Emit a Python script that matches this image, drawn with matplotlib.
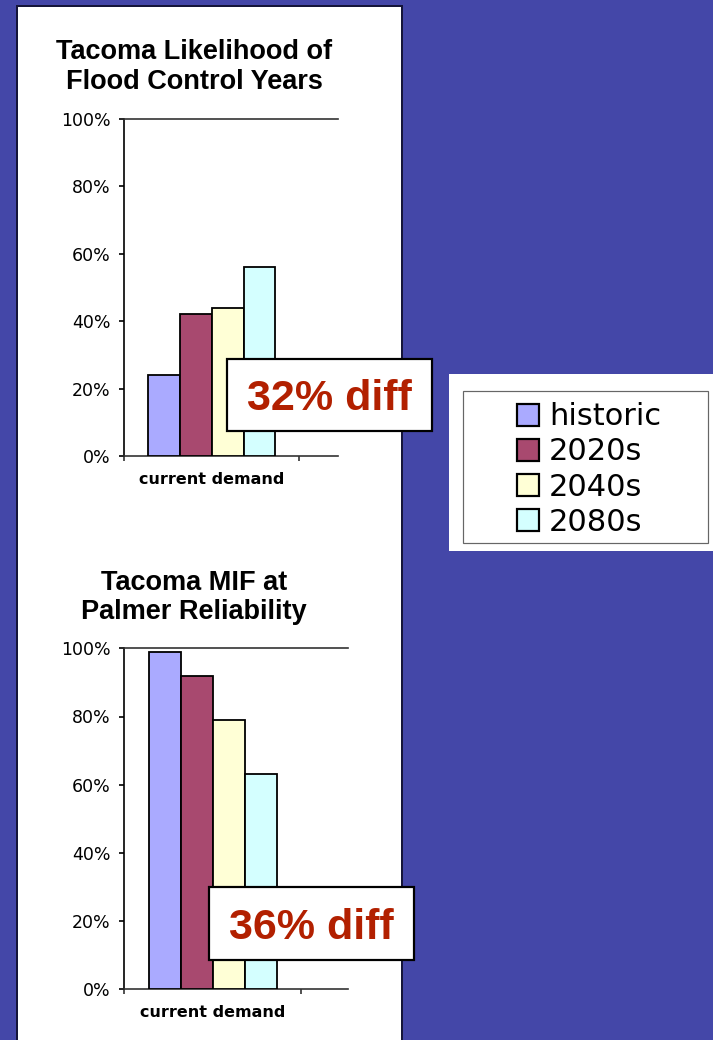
import numpy as np
import matplotlib
matplotlib.use("Agg")
import matplotlib.pyplot as plt
from matplotlib.patches import Rectangle
from matplotlib.ticker import PercentFormatter, FixedLocator

plt.rcParams["font.family"] = ["DejaVu Sans"]

# ---- data -------------------------------------------------------------
series = ["historic", "2020s", "2040s", "2080s"]
series_colors = ["#AAAAFF", "#A8496F", "#FFFFD6", "#D4FFFF"]
categories = ["current demand"]
flood_control_years = [[24], [42], [44], [56]]       # % per series, per category
mif_palmer_reliability = [[99], [92], [79], [63]]    # % per series, per category
flood_title = ["Tacoma Likelihood of", "Flood Control Years"]
mif_title = ["Tacoma MIF at", "Palmer Reliability"]
flood_diff = "32% diff"
mif_diff = "36% diff"
y_ticks = [0, 20, 40, 60, 80, 100]

# ---- canvas -----------------------------------------------------------
W, H, DPI = 713, 1040, 100
fig = plt.figure(figsize=(W / DPI, H / DPI), dpi=DPI, facecolor="#4447A8")


def frac_box(x0, y0, x1, y1):
    """Pixel box (origin top-left) -> figure-fraction [left, bottom, w, h]."""
    return [x0 / W, 1 - y1 / H, (x1 - x0) / W, (y1 - y0) / H]


def fig_rect(x0, y0, x1, y1, **kw):
    l, b, w, h = frac_box(x0, y0, x1, y1)
    r = Rectangle((l, b), w, h, transform=fig.transFigure, **kw)
    fig.add_artist(r)
    return r


PX = 72 / DPI  # points per pixel

# white slide panel holding the two charts
fig_rect(17, 6, 402, 1046, facecolor="white", edgecolor="#15153a",
         linewidth=2 * PX, zorder=-1)

BAR_W = 0.1815


def bar_chart(box, data, x_right, title, title_baselines):
    ax = fig.add_axes(frac_box(*box))
    x = np.arange(len(categories))
    handles = []
    for i, (vals, col, name) in enumerate(zip(data, series_colors, series)):
        h = ax.bar(x + (i - 1.5) * BAR_W, vals, width=BAR_W, color=col,
                   edgecolor="black", linewidth=1.3, label=name, zorder=3)
        handles.append(h)
    ax.set_xlim(-0.5, x_right)
    ax.set_ylim(0, 100)
    ax.yaxis.set_major_locator(FixedLocator(y_ticks))
    ax.yaxis.set_major_formatter(PercentFormatter(decimals=0))
    ax.set_xticks(np.arange(len(categories) + 1) - 0.5)
    ax.set_xticklabels([])
    ax.set_xticks(x, labels=categories, minor=True)
    ax.tick_params(axis="x", which="minor", length=0, pad=11.5,
                   labelsize=11.5)
    for lab in ax.get_xticklabels(minor=True):
        lab.set_fontweight("bold")
    ax.tick_params(axis="x", which="major", direction="out", length=5 * PX,
                   width=1.2, color="#333333")
    ax.tick_params(axis="y", direction="out", length=5 * PX, width=1.2,
                   pad=6.5, labelsize=12.5)
    ax.spines["right"].set_visible(False)
    ax.spines["left"].set_color("black")
    ax.spines["left"].set_linewidth(1.2)
    for s in ("top", "bottom"):
        ax.spines[s].set_color("#333333")
        ax.spines[s].set_linewidth(1.2)
    ax.set_facecolor("none")
    for line, yb in zip(title, title_baselines):
        fig.text(194 / W, 1 - yb / H, line, ha="center", va="baseline",
                 fontsize=19.5, fontweight="bold", family="Liberation Sans")
    return ax, handles


def diff_box(x0, y0, x1, y1, label):
    fig_rect(x0, y0, x1, y1, facecolor="white", edgecolor="black",
             linewidth=2.2 * PX, zorder=5)
    fig.text((x0 + x1) / 2 / W, 1 - (y0 + y1) / 2 / H, label,
             ha="center", va="center_baseline", fontsize=31,
             fontweight="bold", family="Liberation Sans", color="#B22000",
             zorder=6)


ax1, handles = bar_chart((124.3, 119, 338, 456), flood_control_years,
                         0.721, flood_title, (59.3, 89.3))
ax2, _ = bar_chart((124.3, 648.3, 348, 989.3), mif_palmer_reliability,
                   0.766, mif_title, (590, 619))

diff_box(227.3, 359, 431.7, 430.7, flood_diff)
diff_box(209.3, 886.7, 414.3, 960, mif_diff)

# legend panel
fig_rect(449, 374, 716, 551, facecolor="white", edgecolor="none", zorder=1)
fig_rect(463.3, 390.7, 708.3, 542.7, facecolor="none", edgecolor="#666666",
         linewidth=1.2 * PX, zorder=2)
leg = fig.legend(handles, series, loc="center",
                 bbox_to_anchor=(589 / W, 1 - 469.5 / H), frameon=False,
                 fontsize=22, handlelength=0.72, handleheight=0.72,
                 handletextpad=0.32, labelspacing=0.2, borderpad=0)
for p in leg.get_patches():
    p.set_linewidth(2.2 * PX)

fig.savefig("out.png", dpi=DPI, facecolor=fig.get_facecolor())
